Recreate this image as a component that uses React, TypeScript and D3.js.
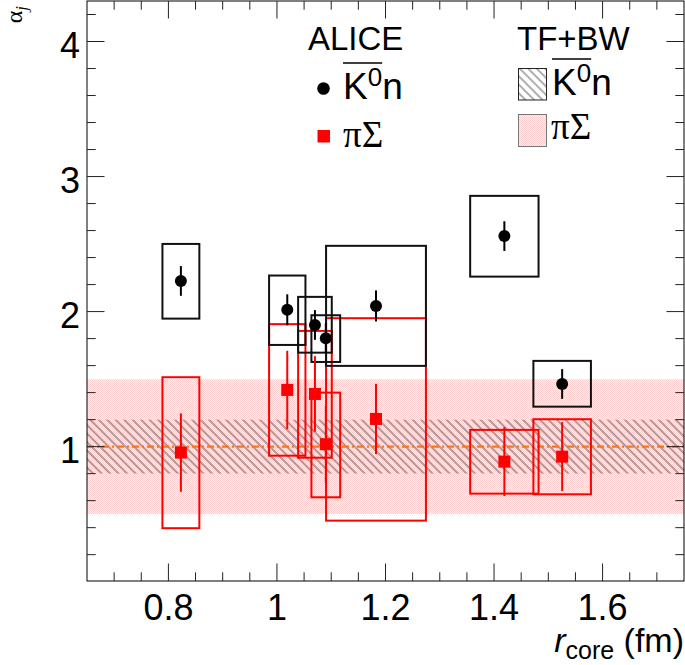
import { useEffect, useRef } from 'react';
import * as d3 from 'd3';

// r_core values and their uncertainty (box half-widths), in fm
const rCore = [0.823, 1.019, 1.07, 1.09, 1.1825, 1.419, 1.5255];
const rCoreSys = [0.034, 0.0335, 0.031, 0.0265, 0.092, 0.063, 0.053];

// ALICE K0bar-n
const k0nAlpha = [2.227, 2.013, 1.901, 1.803, 2.042, 2.559, 1.464];
const k0nStat = [0.11, 0.115, 0.11, 0.11, 0.115, 0.11, 0.11];
const k0nSysLow = [1.948, 1.753, 1.696, 1.627, 1.598, 2.259, 1.296];
const k0nSysHigh = [2.501, 2.267, 2.109, 1.973, 2.487, 2.857, 1.635];

// ALICE pi-Sigma
const piSigmaAlpha = [0.956, 1.42, 1.39, 1.018, 1.205, 0.889, 0.926];
const piSigmaStat = [0.29, 0.29, 0.28, 0.285, 0.26, 0.255, 0.255];
const piSigmaSysLow = [0.396, 0.933, 0.918, 0.625, 0.452, 0.652, 0.647];
const piSigmaSysHigh = [1.514, 1.907, 1.857, 1.4, 1.951, 1.124, 1.203];

// TF+BW model bands
const modelCentre = 1;
const modelK0nBand = [0.8, 1.2];
const modelPiSigmaBand = [0.5, 1.5];

const xTicks = [0.8, 1, 1.2, 1.4, 1.6];
const yTicks = [1, 2, 3, 4];

const W = 685;
const H = 665;
const FONT = '"Liberation Sans", Arial, sans-serif';
const SERIF = '"Liberation Serif", "Times New Roman", serif';
const RED = '#ff0000';

const App = () => {
  const svgRef = useRef<SVGSVGElement>(null);

  useEffect(() => {
    if (!svgRef.current) return;
    const svg = d3.select(svgRef.current);
    svg.selectAll('*').remove();

    const x = d3.scaleLinear().domain([0.65, 1.75]).range([87, 684]);
    const y = d3.scaleLinear().domain([0.005, 4.3]).range([581, 1]);
    const [x0, x1] = x.range();
    const [y0, y1] = y.range();

    const defs = svg.append('defs');

    // pink dotted fill
    const pink = defs.append('pattern')
      .attr('id', 'pinkfill')
      .attr('patternUnits', 'userSpaceOnUse')
      .attr('width', 2)
      .attr('height', 2);
    pink.append('rect').attr('width', 2).attr('height', 2).attr('fill', '#fff0f0');
    pink.append('rect').attr('width', 1).attr('height', 1).attr('fill', '#fbcfcf');
    pink.append('rect').attr('x', 1).attr('y', 1).attr('width', 1).attr('height', 1).attr('fill', '#fbcfcf');

    // "\" hatching
    const hatch = defs.append('pattern')
      .attr('id', 'hatch')
      .attr('patternUnits', 'userSpaceOnUse')
      .attr('width', 6)
      .attr('height', 10)
      .attr('patternTransform', 'rotate(-45)');
    hatch.append('line')
      .attr('x1', 1).attr('x2', 1).attr('y1', 0).attr('y2', 10)
      .attr('stroke', '#1a1a1a').attr('stroke-width', 0.7);

    // model bands
    svg.append('rect')
      .attr('x', x0).attr('width', x1 - x0)
      .attr('y', y(modelPiSigmaBand[1]))
      .attr('height', y(modelPiSigmaBand[0]) - y(modelPiSigmaBand[1]))
      .attr('fill', 'url(#pinkfill)');
    svg.append('rect')
      .attr('x', x0).attr('width', x1 - x0)
      .attr('y', y(modelK0nBand[1]))
      .attr('height', y(modelK0nBand[0]) - y(modelK0nBand[1]))
      .attr('fill', 'url(#hatch)');
    svg.append('line')
      .attr('x1', x0).attr('x2', x1)
      .attr('y1', y(modelCentre)).attr('y2', y(modelCentre))
      .attr('stroke', '#ff7410').attr('stroke-width', 2.2)
      .attr('stroke-dasharray', '7,3,2,3');

    const idx = d3.range(rCore.length);

    // systematic boxes, red first so black sits on top
    const boxes = (lo: number[], hi: number[], color: string) => {
      svg.append('g').selectAll('rect')
        .data(idx)
        .enter()
        .append('rect')
        .attr('x', i => x(rCore[i] - rCoreSys[i]))
        .attr('width', i => x(rCore[i] + rCoreSys[i]) - x(rCore[i] - rCoreSys[i]))
        .attr('y', i => y(hi[i]))
        .attr('height', i => y(lo[i]) - y(hi[i]))
        .attr('fill', 'none')
        .attr('stroke', color)
        .attr('stroke-width', 2);
    };
    boxes(piSigmaSysLow, piSigmaSysHigh, RED);
    boxes(k0nSysLow, k0nSysHigh, '#111');

    // stat errors
    const statBars = (vals: number[], err: number[], color: string) => {
      svg.append('g').selectAll('line')
        .data(idx)
        .enter()
        .append('line')
        .attr('x1', i => x(rCore[i]))
        .attr('x2', i => x(rCore[i]))
        .attr('y1', i => y(vals[i] + err[i]))
        .attr('y2', i => y(vals[i] - err[i]))
        .attr('stroke', color)
        .attr('stroke-width', 2);
    };
    statBars(piSigmaAlpha, piSigmaStat, RED);
    statBars(k0nAlpha, k0nStat, '#000');

    svg.append('g').selectAll('rect')
      .data(idx)
      .enter()
      .append('rect')
      .attr('x', i => x(rCore[i]) - 6)
      .attr('y', i => y(piSigmaAlpha[i]) - 6)
      .attr('width', 12)
      .attr('height', 12)
      .attr('fill', RED);
    svg.append('g').selectAll('circle')
      .data(idx)
      .enter()
      .append('circle')
      .attr('cx', i => x(rCore[i]))
      .attr('cy', i => y(k0nAlpha[i]))
      .attr('r', 6)
      .attr('fill', '#000');

    // frame and ticks
    svg.append('rect')
      .attr('x', x0).attr('y', y1)
      .attr('width', x1 - x0).attr('height', y0 - y1)
      .attr('fill', 'none').attr('stroke', '#000').attr('stroke-width', 1);

    const axes = svg.append('g').attr('stroke', '#222').attr('stroke-width', 1);
    const xMinor = d3.range(14, 36).map(d => d * 0.05).filter(v => v > 0.66 && v < 1.74);
    const yMinor = d3.range(1, 22).map(d => d * 0.2);
    xMinor.forEach(v => {
      const major = xTicks.some(t => Math.abs(t - v) < 1e-6);
      const len = major ? 17.5 : 8.7;
      axes.append('line').attr('x1', x(v)).attr('x2', x(v)).attr('y1', y0).attr('y2', y0 - len);
      axes.append('line').attr('x1', x(v)).attr('x2', x(v)).attr('y1', y1).attr('y2', y1 + len);
    });
    yMinor.forEach(v => {
      const major = yTicks.some(t => Math.abs(t - v) < 1e-6);
      const len = major ? 17.5 : 8.7;
      axes.append('line').attr('x1', x0).attr('x2', x0 + len).attr('y1', y(v)).attr('y2', y(v));
      axes.append('line').attr('x1', x1).attr('x2', x1 - len).attr('y1', y(v)).attr('y2', y(v));
    });

    // tick labels
    svg.append('g').selectAll('text')
      .data(xTicks)
      .enter()
      .append('text')
      .attr('x', d => x(d))
      .attr('y', 620)
      .attr('text-anchor', 'middle')
      .attr('font-family', FONT)
      .attr('font-size', 36)
      .text(d => d3.format('~g')(d));
    svg.append('g').selectAll('text')
      .data(yTicks)
      .enter()
      .append('text')
      .attr('x', 80)
      .attr('y', d => y(d) + 16)
      .attr('text-anchor', 'end')
      .attr('font-family', FONT)
      .attr('font-size', 36)
      .text(d => String(d));

    // axis titles
    const xt = svg.append('text')
      .attr('x', 684).attr('y', 652)
      .attr('text-anchor', 'end')
      .attr('font-family', FONT)
      .attr('font-size', 34);
    xt.append('tspan').attr('font-style', 'italic').text('r');
    xt.append('tspan').attr('font-size', 25).attr('dy', 7).text('core');
    xt.append('tspan').attr('dy', -7).text(' (fm)');

    const yt = svg.append('text')
      .attr('transform', 'translate(22,6) rotate(-90)')
      .attr('text-anchor', 'end')
      .attr('font-family', SERIF)
      .attr('font-size', 24);
    yt.append('tspan').text('α');
    yt.append('tspan').attr('font-size', 17).attr('font-style', 'italic').attr('dy', 5).text('j');

    // legend
    const legendText = (tx: number, ty: number, txt: string) =>
      svg.append('text').attr('x', tx).attr('y', ty)
        .attr('font-family', FONT).attr('font-size', 33).text(txt);
    legendText(308, 50, 'ALICE');
    legendText(517, 50, 'TF+BW');

    const k0n = (tx: number, ty: number) => {
      const t = svg.append('text').attr('x', tx).attr('y', ty)
        .attr('font-family', FONT).attr('font-size', 37);
      t.append('tspan').text('K');
      t.append('tspan').attr('font-size', 26).attr('dy', -13).text('0');
      t.append('tspan').attr('dy', 13).text('n');
      const node = t.node() as SVGTextElement;
      let w = 35;
      try { w = node.getSubStringLength(0, 2); } catch (e) { /* keep default */ }
      svg.append('line')
        .attr('x1', tx).attr('x2', tx + w)
        .attr('y1', ty - 36).attr('y2', ty - 36)
        .attr('stroke', '#000').attr('stroke-width', 1.6);
    };
    const piSigma = (tx: number, ty: number) =>
      svg.append('text').attr('x', tx).attr('y', ty)
        .attr('font-family', SERIF).attr('font-size', 37).text('πΣ');

    svg.append('circle').attr('cx', 323.5).attr('cy', 88.5).attr('r', 6.3).attr('fill', '#000');
    k0n(343, 99);
    svg.append('rect').attr('x', 317.5).attr('y', 130).attr('width', 12.5).attr('height', 12.5).attr('fill', RED);
    piSigma(343, 147);

    svg.append('rect').attr('x', 518.5).attr('y', 68.5).attr('width', 28).attr('height', 31.5)
      .attr('fill', '#fff').attr('stroke', 'none');
    svg.append('rect').attr('x', 518.5).attr('y', 68.5).attr('width', 28).attr('height', 31.5)
      .attr('fill', 'url(#hatch)').attr('stroke', '#222').attr('stroke-width', 1);
    k0n(552, 95);
    svg.append('rect').attr('x', 518.5).attr('y', 114.5).attr('width', 28).attr('height', 32)
      .attr('fill', 'url(#pinkfill)').attr('stroke', '#777').attr('stroke-width', 1);
    piSigma(551, 139);
  }, []);

  return (
    <svg
      ref={svgRef}
      width={W}
      height={H}
      style={{ position: 'absolute', left: 0, top: 0, background: '#fff' }}
    />
  );
};

export default App;
